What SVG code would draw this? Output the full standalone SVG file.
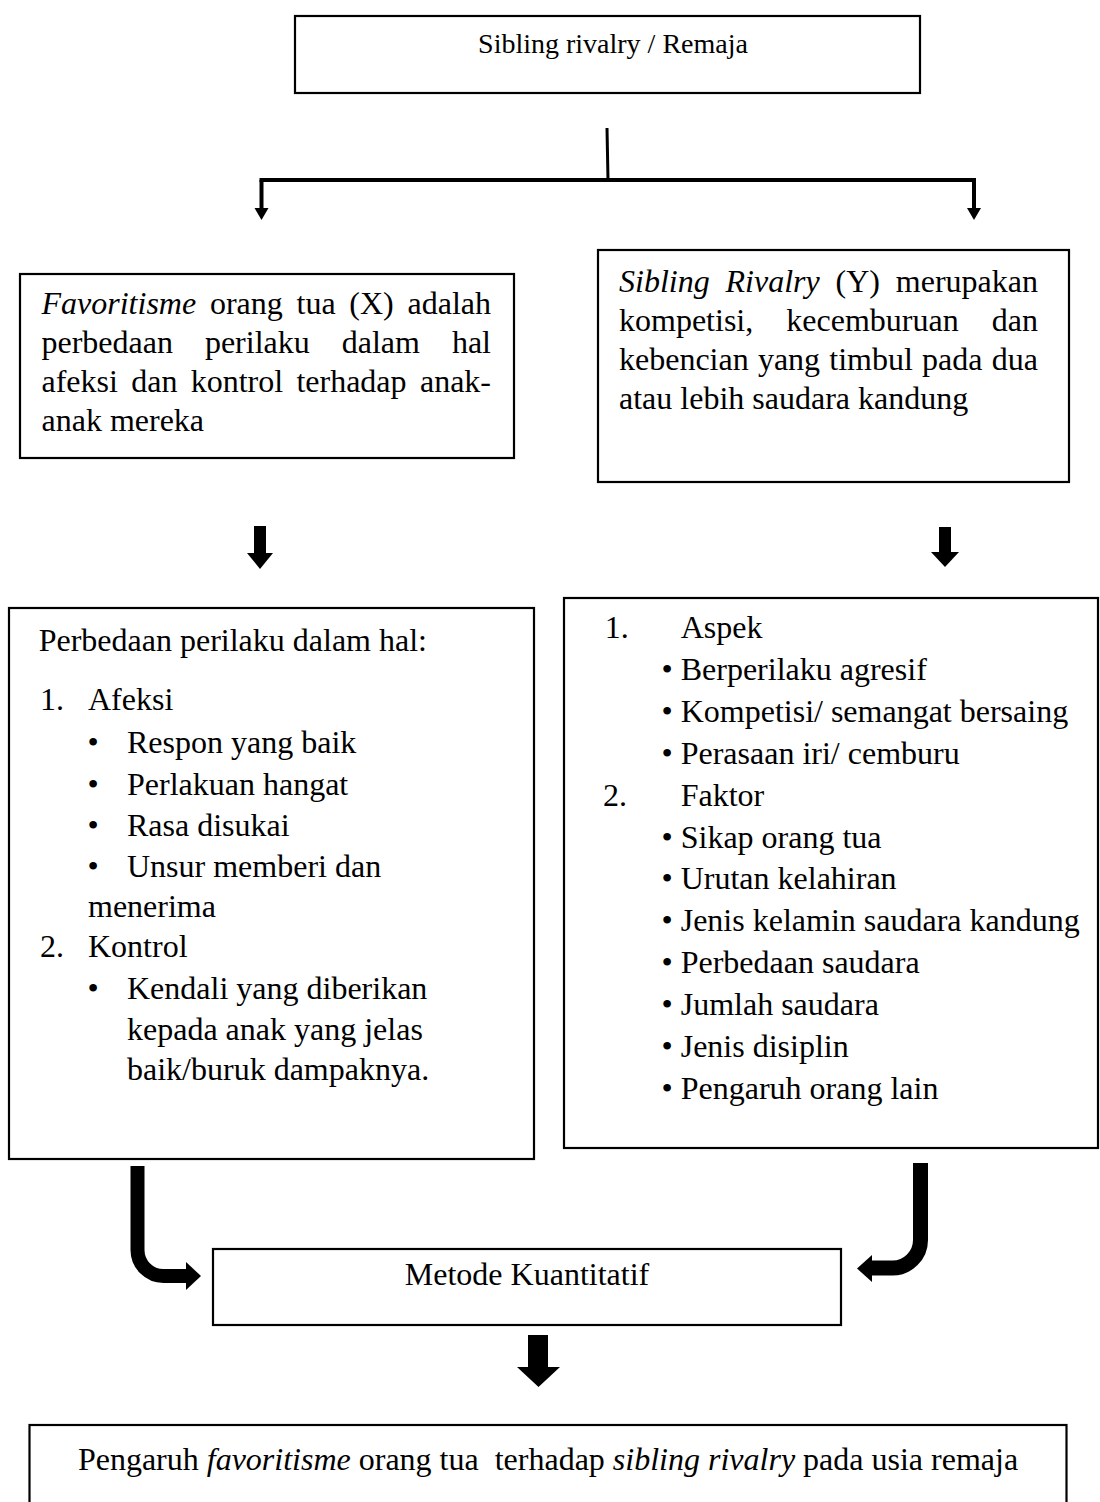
<svg xmlns="http://www.w3.org/2000/svg" width="1100" height="1502" viewBox="0 0 1100 1502">
<style>
.box{fill:#fff;stroke:#000;stroke-width:2.2}
.t{font-family:"Liberation Serif","Times New Roman",serif;font-size:32px;fill:#000}
.ti{font-family:"Liberation Serif","Times New Roman",serif;font-size:28px;fill:#000}
.i{font-style:italic}
.ln{stroke:#000;fill:none}
.ah{fill:#000;stroke:none}
</style>
<rect width="1100" height="1502" fill="#fff"/>
<g id="connectors">
<path class="ln" d="M607 128 L608 180" stroke-width="3"/>
<path class="ln" d="M259.5 180 H976" stroke-width="4"/>
<path class="ln" d="M261.5 180 V209" stroke-width="4"/>
<polygon class="ah" points="254.5,208 268.5,208 261.5,220"/>
<path class="ln" d="M974 180 V209" stroke-width="4"/>
<polygon class="ah" points="967,208 981,208 974,220"/>
<polygon class="ah" points="254,526 266,526 266,553 273,553 260,569 247,553 254,553"/>
<polygon class="ah" points="939,527 951,527 951,552 959,552 945,567 931,552 939,552"/>
<path class="ln" d="M137.5 1166 V1250 A26 26 0 0 0 163.5 1276 H187" stroke-width="14"/>
<polygon class="ah" points="186,1262 201,1276 186,1290"/>
<path class="ln" d="M920.5 1163 V1240 A28 28 0 0 1 892.5 1268 H871" stroke-width="15"/>
<polygon class="ah" points="872,1255 857,1268.5 872,1282"/>
<polygon class="ah" points="528,1335 548,1335 548,1367 560,1367 538.5,1387 517,1367 528,1367"/>
</g>
<g id="node-title">
<rect class="box" x="295" y="16" width="625" height="77"/>
<text class="ti" x="613" y="53" text-anchor="middle">Sibling rivalry / Remaja</text>
</g>
<g id="node-x">
<rect class="box" x="20" y="274" width="494" height="184"/>
<text class="t" y="314"><tspan class="i" x="41.5">Favoritisme</tspan><tspan x="209.9">orang</tspan><tspan x="296.5">tua</tspan><tspan x="349.3">(X)</tspan></text>
<text class="t" x="491" y="314" text-anchor="end">adalah</text>
<text class="t" y="353"><tspan x="41.5">perbedaan</tspan><tspan x="204.9">perilaku</tspan><tspan x="341.7">dalam</tspan></text>
<text class="t" x="491" y="353" text-anchor="end">hal</text>
<text class="t" y="392"><tspan x="41.5">afeksi</tspan><tspan x="131.2">dan</tspan><tspan x="190.7">kontrol</tspan><tspan x="296.4">terhadap</tspan></text>
<text class="t" x="491" y="392" text-anchor="end">anak-</text>
<text class="t" x="41.5" y="431">anak mereka</text>
</g>
<g id="node-y">
<rect class="box" x="598" y="250" width="471" height="232"/>
<text class="t" y="292"><tspan class="i" x="619">Sibling</tspan><tspan class="i" x="725.5">Rivalry</tspan><tspan x="835.5">(Y)</tspan></text>
<text class="t" x="1038" y="292" text-anchor="end">merupakan</text>
<text class="t" y="331"><tspan x="619">kompetisi,</tspan><tspan x="786.3">kecemburuan</tspan></text>
<text class="t" x="1038" y="331" text-anchor="end">dan</text>
<text class="t" y="370"><tspan x="619">kebencian</tspan><tspan x="757.9">yang</tspan><tspan x="829.3">timbul</tspan><tspan x="922.1">pada</tspan></text>
<text class="t" x="1038" y="370" text-anchor="end">dua</text>
<text class="t" x="619" y="409">atau lebih saudara kandung</text>
</g>
<g id="node-x-detail">
<rect class="box" x="9" y="608" width="525" height="551"/>
<text class="t" x="38.7" y="651">Perbedaan perilaku dalam hal:</text>
<text class="t" x="40" y="710">1.</text>
<text class="t" x="88" y="710">Afeksi</text>
<text class="t" x="93" y="753" text-anchor="middle">•</text>
<text class="t" x="127" y="753">Respon yang baik</text>
<text class="t" x="93" y="795" text-anchor="middle">•</text>
<text class="t" x="127" y="795">Perlakuan hangat</text>
<text class="t" x="93" y="836" text-anchor="middle">•</text>
<text class="t" x="127" y="836">Rasa disukai</text>
<text class="t" x="93" y="877" text-anchor="middle">•</text>
<text class="t" x="127" y="877">Unsur memberi dan</text>
<text class="t" x="88" y="917">menerima</text>
<text class="t" x="40" y="957">2.</text>
<text class="t" x="88" y="957">Kontrol</text>
<text class="t" x="93" y="999" text-anchor="middle">•</text>
<text class="t" x="127" y="999">Kendali yang diberikan</text>
<text class="t" x="127" y="1040">kepada anak yang jelas</text>
<text class="t" x="127" y="1080">baik/buruk dampaknya.</text>
</g>
<g id="node-y-detail">
<rect class="box" x="564" y="598" width="534" height="550"/>
<text class="t" x="604.8" y="638">1.</text>
<text class="t" x="680.7" y="638">Aspek</text>
<text class="t" x="667" y="680" text-anchor="middle">•</text>
<text class="t" x="680.7" y="680">Berperilaku agresif</text>
<text class="t" x="667" y="722" text-anchor="middle">•</text>
<text class="t" x="680.7" y="722">Kompetisi/ semangat bersaing</text>
<text class="t" x="667" y="764" text-anchor="middle">•</text>
<text class="t" x="680.7" y="764">Perasaan iri/ cemburu</text>
<text class="t" x="603" y="806">2.</text>
<text class="t" x="680.7" y="806">Faktor</text>
<text class="t" x="667" y="848" text-anchor="middle">•</text>
<text class="t" x="680.7" y="848">Sikap orang tua</text>
<text class="t" x="667" y="889" text-anchor="middle">•</text>
<text class="t" x="680.7" y="889">Urutan kelahiran</text>
<text class="t" x="667" y="931" text-anchor="middle">•</text>
<text class="t" x="680.7" y="931">Jenis kelamin saudara kandung</text>
<text class="t" x="667" y="973" text-anchor="middle">•</text>
<text class="t" x="680.7" y="973">Perbedaan saudara</text>
<text class="t" x="667" y="1015" text-anchor="middle">•</text>
<text class="t" x="680.7" y="1015">Jumlah saudara</text>
<text class="t" x="667" y="1057" text-anchor="middle">•</text>
<text class="t" x="680.7" y="1057">Jenis disiplin</text>
<text class="t" x="667" y="1099" text-anchor="middle">•</text>
<text class="t" x="680.7" y="1099">Pengaruh orang lain</text>
</g>
<g id="node-method">
<rect class="box" x="213" y="1249" width="628" height="76"/>
<text class="t" x="527" y="1285" text-anchor="middle">Metode Kuantitatif</text>
</g>
<g id="node-result">
<rect class="box" x="29.5" y="1425" width="1037" height="100"/>
<text class="t" x="548" y="1470" text-anchor="middle" xml:space="preserve">Pengaruh <tspan class="i">favoritisme</tspan> orang tua  terhadap <tspan class="i">sibling rivalry</tspan> pada usia remaja</text>
</g>
</svg>
